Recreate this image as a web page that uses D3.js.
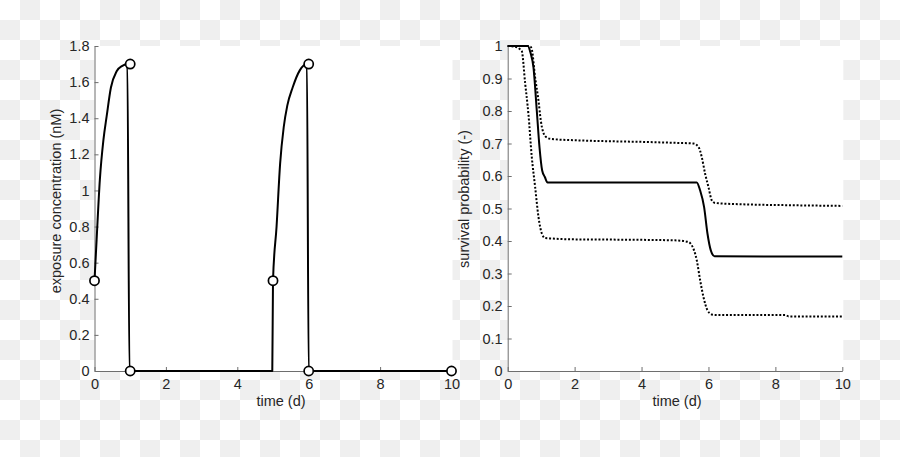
<!DOCTYPE html>
<html><head><meta charset="utf-8">
<script src="https://cdn.jsdelivr.net/npm/d3@7"></script>
<style>
body{margin:0;background:#fff;}
svg{display:block;}
text{font-family:"Liberation Sans",Arial,sans-serif;fill:#262626;}
</style>
</head><body>
<svg id="c" width="900" height="457"></svg>
<script>
// ---- data ----
const timeTicks = [0, 2, 4, 6, 8, 10];
const concTicks = [0, 0.2, 0.4, 0.6, 0.8, 1, 1.2, 1.4, 1.6, 1.8];
const survTicks = [0, 0.1, 0.2, 0.3, 0.4, 0.5, 0.6, 0.7, 0.8, 0.9, 1];

// exposure concentration (model line)
const concT = [0, 0.06, 0.15, 0.25, 0.34, 0.46, 0.62, 0.78, 0.92, 0.98, 4.98, 5.0, 5.10, 5.20, 5.30, 5.40, 5.55, 5.75, 5.95, 6.0, 10];
const concV = [0.5, 0.73, 1.06, 1.28, 1.41, 1.57, 1.66, 1.69, 1.70, 0, 0, 0.5, 0.80, 1.15, 1.35, 1.47, 1.57, 1.665, 1.70, 0, 0];
// exposure concentration (points)
const markT = [0, 1, 1, 5, 6, 6, 10];
const markV = [0.5, 1.7, 0, 0.5, 1.7, 0, 0];

// survival probability: median and bounds
const survT = [0, 0.6, 0.68, 0.77, 0.87, 0.95, 1.03, 1.11, 1.19, 5.65, 5.75, 5.87, 5.97, 6.07, 6.18, 10];
const survV = [1, 1, 0.98, 0.934, 0.80, 0.689, 0.617, 0.597, 0.58, 0.58, 0.556, 0.504, 0.423, 0.371, 0.353, 0.352];
const upperT = [0, 0.6, 0.68, 0.72, 0.82, 0.92, 0.99, 1.06, 1.17, 1.3, 2, 3, 4, 5, 5.55, 5.7, 5.8, 5.9, 6.0, 6.1, 6.2, 7, 8.5, 10];
const upperV = [1, 1, 0.998, 0.99, 0.903, 0.832, 0.77, 0.735, 0.718, 0.714, 0.71, 0.707, 0.705, 0.702, 0.70, 0.69, 0.658, 0.607, 0.566, 0.525, 0.517, 0.513, 0.51, 0.508];
const lowerT = [0, 0.2, 0.37, 0.42, 0.52, 0.62, 0.72, 0.82, 0.92, 1.02, 1.12, 1.25, 2, 3.5, 5.0, 5.4, 5.5, 5.65, 5.75, 5.85, 5.97, 6.1, 6.2, 8.3, 8.4, 10];
const lowerV = [1, 0.998, 0.99, 0.985, 0.887, 0.79, 0.658, 0.566, 0.474, 0.423, 0.409, 0.408, 0.405, 0.404, 0.402, 0.397, 0.387, 0.341, 0.28, 0.228, 0.187, 0.174, 0.172, 0.172, 0.168, 0.168];

// ---- drawing ----
const svg = d3.select("#c");
const W = 900, H = 457;

// checkerboard background
const defs = svg.append("defs");
const pat = defs.append("pattern").attr("id", "chk").attr("width", 40).attr("height", 40)
  .attr("patternUnits", "userSpaceOnUse");
pat.append("rect").attr("width", 40).attr("height", 40).attr("fill", "#ffffff");
pat.append("rect").attr("x", 20).attr("y", 0).attr("width", 20).attr("height", 20).attr("fill", "#efefef");
pat.append("rect").attr("x", 0).attr("y", 20).attr("width", 20).attr("height", 20).attr("fill", "#efefef");
svg.append("rect").attr("width", W).attr("height", H).attr("fill", "url(#chk)");

const plotTop = 46, plotBottom = 371;
const panels = [
  {x0: 94.5, x1: 451.5, yDomain: [0, 1.8], yTicks: concTicks, ylabel: "exposure concentration (nM)", ylabX: 61, ylabY: 201, xlabX: 281},
  {x0: 507.7, x1: 842.3, yDomain: [0, 1], yTicks: survTicks, ylabel: "survival probability (-)", ylabX: 469, ylabY: 199, xlabX: 677}
];

const fmt = d => String(+d.toFixed(1));

panels.forEach((p, i) => {
  p.x = d3.scaleLinear().domain([0, 10]).range([p.x0, p.x1]);
  p.y = d3.scaleLinear().domain(p.yDomain).range([plotBottom, plotTop]);
  svg.append("rect").attr("x", p.x0).attr("y", plotTop).attr("width", p.x1 - p.x0 + 1).attr("height", plotBottom - plotTop)
    .attr("fill", "#fff");

  const gx = svg.append("g").attr("transform", `translate(0,${plotBottom})`)
    .call(d3.axisBottom(p.x).tickValues(timeTicks).tickFormat(fmt).tickSizeInner(-4).tickSizeOuter(0).tickPadding(6));
  const gy = svg.append("g").attr("transform", `translate(${p.x0},0)`)
    .call(d3.axisLeft(p.y).tickValues(p.yTicks).tickFormat(fmt).tickSizeInner(-4).tickSizeOuter(0).tickPadding(5));
  [gx, gy].forEach(g => {
    g.select(".domain").attr("stroke", "#6e6e6e").attr("stroke-width", 1);
    g.selectAll(".tick line").attr("stroke", "#6e6e6e");
    g.selectAll(".tick text").attr("font-size", 14.5).attr("fill", "#262626")
      .style("font-family", '"Liberation Sans",Arial,sans-serif');
  });
  gx.selectAll(".tick text").attr("dy", "0.8em");

  svg.append("text").attr("x", p.xlabX).attr("y", 406).attr("text-anchor", "middle")
    .attr("font-size", 14.5).text("time (d)");
  svg.append("text").attr("transform", `translate(${p.ylabX},${p.ylabY}) rotate(-90)`)
    .attr("text-anchor", "middle").attr("font-size", 14.5).text(p.ylabel);
});

const P0 = panels[0], P1 = panels[1];

// left: concentration
const concData = concT.map((t, i) => [t, concV[i]]);
svg.append("path").datum(concData)
  .attr("d", d3.line().x(d => P0.x(d[0])).y(d => P0.y(d[1])).curve(d3.curveMonotoneX))
  .attr("fill", "none").attr("stroke", "#000").attr("stroke-width", 2).attr("stroke-linejoin", "round");
svg.append("g").selectAll("circle").data(markT.map((t, i) => [t, markV[i]])).join("circle")
  .attr("cx", d => P0.x(d[0])).attr("cy", d => P0.y(d[1])).attr("r", 4.6)
  .attr("fill", "#fff").attr("stroke", "#000").attr("stroke-width", 1.7);

// right: survival
const survLine = d3.line().x(d => P1.x(d[0])).y(d => P1.y(d[1])).curve(d3.curveMonotoneX);
[[upperT, upperV], [lowerT, lowerV]].forEach(([T, V]) => {
  svg.append("path").datum(T.map((t, i) => [t, V[i]])).attr("d", survLine)
    .attr("fill", "none").attr("stroke", "#000").attr("stroke-width", 2)
    .attr("stroke-dasharray", "2,1.8");
});
svg.append("path").datum(survT.map((t, i) => [t, survV[i]])).attr("d", survLine)
  .attr("fill", "none").attr("stroke", "#000").attr("stroke-width", 2);
</script>
</body></html>
